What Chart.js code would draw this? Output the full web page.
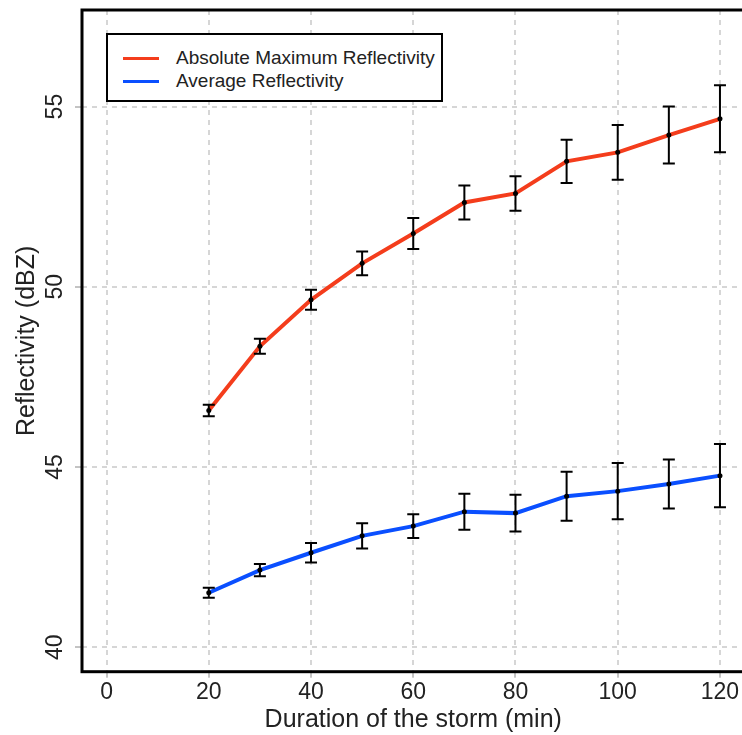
<!DOCTYPE html>
<html>
<head>
<meta charset="utf-8">
<script src="https://cdn.jsdelivr.net/npm/chart.js@4/dist/chart.umd.min.js"></script>
<style>
  html, body { margin: 0; padding: 0; background: #fff; overflow: hidden; }
  #wrap { position: relative; width: 742px; height: 735px; overflow: hidden; }
  #c { position: absolute; left: 0; top: 0; }
  #legend { position: absolute; left: 106px; top: 33px; width: 333px; height: 65px;
    border: 2px solid #000; background: #fff; font-family: "Liberation Sans", Arial, sans-serif;
    font-size: 19px; color: #222; }
  .row { position: absolute; left: 0; height: 22px; line-height: 22px; white-space: nowrap; }
  .sw { position: absolute; left: 15px; top: 10px; width: 36px; height: 3px; }
  .tx { position: absolute; left: 68px; top: 0; }
</style>
</head>
<body>
<div id="wrap">
  <canvas id="c" width="760" height="735"></canvas>
  <div id="legend"></div>
</div>
<script>
// ---- data ----
const durations = [20, 30, 40, 50, 60, 70, 80, 90, 100, 110, 120];
const maxRefl    = [46.57, 48.35, 49.64, 50.65, 51.48, 52.34, 52.59, 53.48, 53.73, 54.21, 54.66];
const maxErr     = [0.16, 0.21, 0.28, 0.33, 0.43, 0.47, 0.48, 0.60, 0.76, 0.79, 0.93];
const avgRefl    = [41.51, 42.14, 42.62, 43.09, 43.36, 43.76, 43.72, 44.19, 44.33, 44.53, 44.76];
const avgErr     = [0.14, 0.17, 0.27, 0.35, 0.33, 0.50, 0.51, 0.68, 0.78, 0.68, 0.88];
const xTicks = [0, 20, 40, 60, 80, 100, 120];
const yTicks = [40, 45, 50, 55];
const seriesNames = ["Absolute Maximum Reflectivity", "Average Reflectivity"];
const seriesColors = ["#f43d1c", "#0a4fff"];

const FONT = '"Liberation Sans", Arial, sans-serif';

function pts(ys) { return durations.map((d, i) => ({ x: d, y: ys[i] })); }

const errorBars = {
  id: 'errorBars',
  afterDatasetsDraw(chart) {
    const ctx = chart.ctx;
    const xs = chart.scales.x, ys = chart.scales.y;
    const errs = [maxErr, avgErr];
    const vals = [maxRefl, avgRefl];
    ctx.save();
    ctx.strokeStyle = '#000';
    ctx.lineWidth = 2;
    errs.forEach((e, k) => {
      durations.forEach((d, i) => {
        const px = xs.getPixelForValue(d);
        const top = ys.getPixelForValue(vals[k][i] + e[i]);
        const bot = ys.getPixelForValue(vals[k][i] - e[i]);
        ctx.beginPath();
        ctx.moveTo(px, top); ctx.lineTo(px, bot);
        ctx.moveTo(px - 6, top); ctx.lineTo(px + 6, top);
        ctx.moveTo(px - 6, bot); ctx.lineTo(px + 6, bot);
        ctx.stroke();
      });
    });
    ctx.restore();
  }
};

const frame = {
  id: 'frame',
  afterDraw(chart) {
    const a = chart.chartArea, ctx = chart.ctx;
    ctx.save();
    ctx.strokeStyle = '#000';
    ctx.lineWidth = 3;
    ctx.strokeRect(a.left, a.top, a.right - a.left, a.bottom - a.top);
    ctx.restore();
  }
};

const chart = new Chart(document.getElementById('c'), {
  type: 'line',
  data: {
    datasets: [
      { label: seriesNames[0], data: pts(maxRefl), borderColor: seriesColors[0], backgroundColor: seriesColors[0],
        borderWidth: 4, pointRadius: 2.5, pointBackgroundColor: '#000', pointBorderWidth: 0, tension: 0 },
      { label: seriesNames[1], data: pts(avgRefl), borderColor: seriesColors[1], backgroundColor: seriesColors[1],
        borderWidth: 4, pointRadius: 2.5, pointBackgroundColor: '#000', pointBorderWidth: 0, tension: 0 }
    ]
  },
  options: {
    responsive: false,
    animation: false,
    layout: { padding: { top: 10, right: 15.5, left: 0, bottom: 0 } },
    plugins: { legend: { display: false }, tooltip: { enabled: false } },
    scales: {
      x: {
        type: 'linear', min: -4.8, max: 124.8,
        afterBuildTicks: s => { s.ticks = xTicks.map(v => ({ value: v })); },
        afterFit: s => { s.height = 63.3; s.paddingLeft = 0; s.paddingRight = 0; },
        grid: { color: '#d6d6d6', lineWidth: 2, tickLength: 6, tickColor: '#888', tickWidth: 1, tickBorderDash: [] },
        border: { display: false, dash: [5, 5] },
        ticks: { color: '#222', font: { family: FONT, size: 23 }, padding: 1, maxRotation: 0 },
        title: { display: true, text: 'Duration of the storm (min)', color: '#222', font: { family: FONT, size: 25 }, padding: { top: 0, bottom: 0 } }
      },
      y: {
        type: 'linear', min: 39.32, max: 57.68,
        afterBuildTicks: s => { s.ticks = yTicks.map(v => ({ value: v })); },
        afterFit: s => { s.width = 82; s.paddingTop = 0; s.paddingBottom = 0; },
        grid: { color: '#d6d6d6', lineWidth: 2, tickLength: 7, tickColor: '#888', tickWidth: 1, tickBorderDash: [] },
        border: { display: false, dash: [5, 5] },
        ticks: { color: '#222', font: { family: FONT, size: 23 }, padding: 7, minRotation: 90, maxRotation: 90, crossAlign: 'center' },
        title: { display: true, text: 'Reflectivity (dBZ)', color: '#222', font: { family: FONT, size: 25 }, padding: { top: 12, bottom: 0 } }
      }
    }
  },
  plugins: [errorBars, frame]
});

// legend built from the datasets
const lg = document.getElementById('legend');
chart.data.datasets.forEach((ds, i) => {
  const row = document.createElement('div');
  row.className = 'row';
  row.style.top = (12 + i * 23) + 'px';
  const sw = document.createElement('span');
  sw.className = 'sw'; sw.style.background = ds.borderColor;
  const tx = document.createElement('span');
  tx.className = 'tx'; tx.textContent = ds.label;
  row.appendChild(sw); row.appendChild(tx);
  lg.appendChild(row);
});
</script>
</body>
</html>
